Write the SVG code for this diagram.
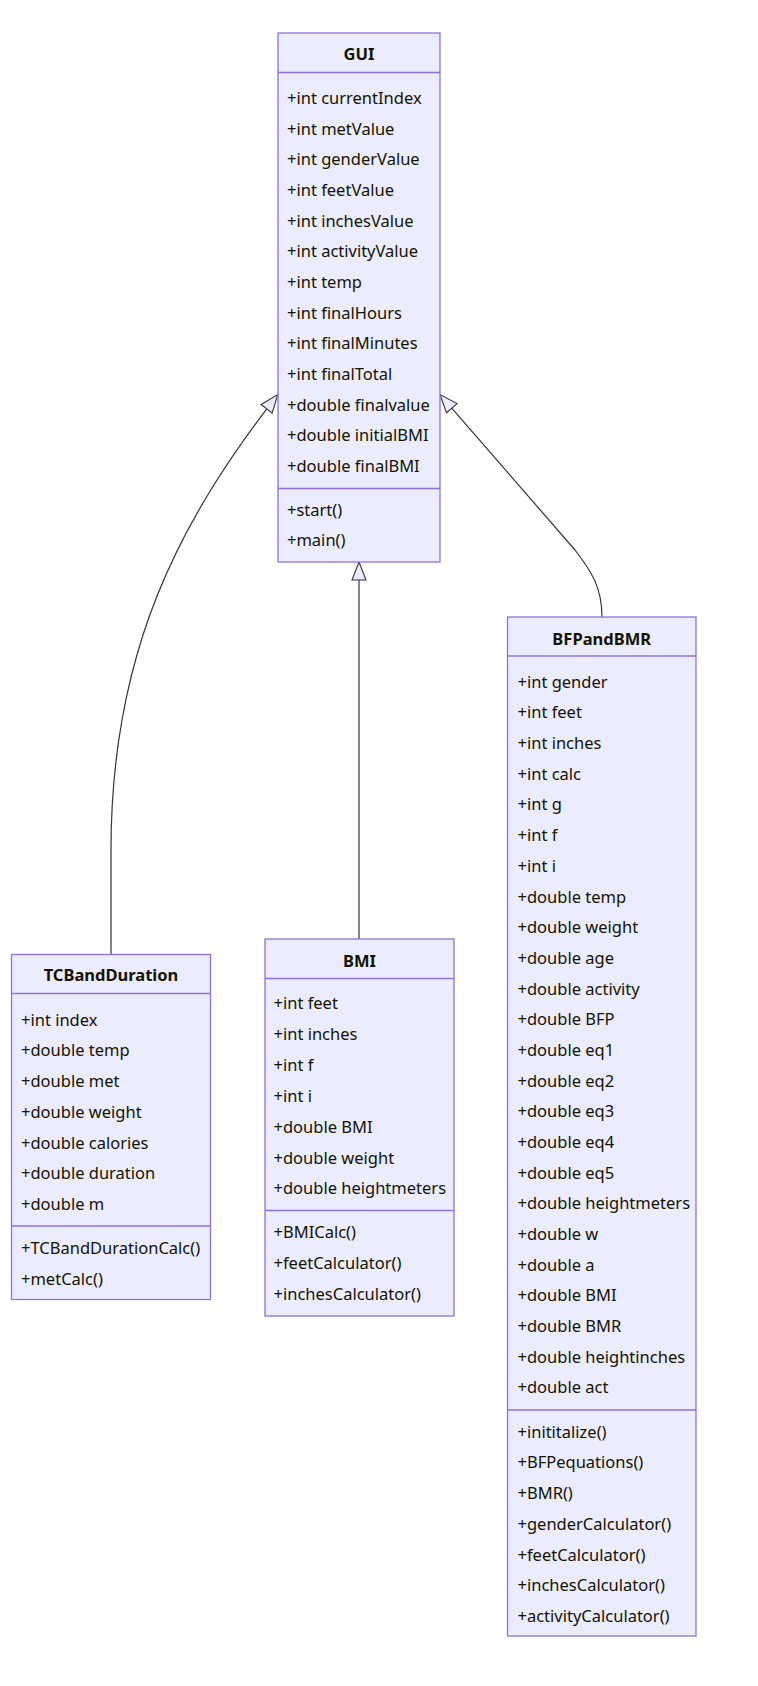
<svg xmlns="http://www.w3.org/2000/svg" width="758" height="1686" viewBox="0 0 758 1686">
<style>
.box{fill:#ECECFF;stroke:#9370DB;stroke-width:1.3}
.sep{stroke:#9370DB;stroke-width:1.3}
text{font-family:"Noto Sans",sans-serif;font-size:16.5px;fill:#131300;dominant-baseline:central}
.t{font-weight:bold;text-anchor:middle}
.edge{fill:none;stroke:#333333;stroke-width:1.2}
</style>
<defs>
<marker id="ext" viewBox="0 0 20 16" refX="19" refY="8" markerWidth="20" markerHeight="16" markerUnits="userSpaceOnUse" orient="auto">
<path d="M1,1 L19,8 L1,15 Z" fill="#ECECFF" stroke="#333333" stroke-width="1.1"/>
</marker>
</defs>
<rect width="758" height="1686" fill="#ffffff"/>
<g id="connectors">
<path class="edge" d="M111,954.5 L111,850 C111,650 180,520 277.7,394.6" marker-end="url(#ext)"/>
<path class="edge" d="M359,939 L359,562" marker-end="url(#ext)"/>
<path class="edge" d="M602,617 C602,588 592,572 575,550 L440,394.6" marker-end="url(#ext)"/>
</g>
<g id="GUI">
<rect class="box" x="278" y="33" width="162" height="529"/>
<line class="sep" x1="278" y1="72.5" x2="440" y2="72.5"/>
<line class="sep" x1="278" y1="488.5" x2="440" y2="488.5"/>
<g transform="translate(0,-1.5)">
<text class="t" x="359" y="55">GUI</text>
<text x="287" y="99">+int currentIndex</text>
<text x="287" y="129.6">+int metValue</text>
<text x="287" y="160.3">+int genderValue</text>
<text x="287" y="190.9">+int feetValue</text>
<text x="287" y="221.6">+int inchesValue</text>
<text x="287" y="252.2">+int activityValue</text>
<text x="287" y="282.9">+int temp</text>
<text x="287" y="313.5">+int finalHours</text>
<text x="287" y="344.2">+int finalMinutes</text>
<text x="287" y="374.8">+int finalTotal</text>
<text x="287" y="405.5">+double finalvalue</text>
<text x="287" y="436.1">+double initialBMI</text>
<text x="287" y="466.8">+double finalBMI</text>
<text x="287" y="510.7">+start()</text>
<text x="287" y="540.7">+main()</text>
</g>
</g>
<g id="TCBandDuration">
<rect class="box" x="11.5" y="954.5" width="199" height="345"/>
<line class="sep" x1="11.5" y1="993.5" x2="210.5" y2="993.5"/>
<line class="sep" x1="11.5" y1="1226" x2="210.5" y2="1226"/>
<g transform="translate(0,-1.5)">
<text class="t" x="111" y="976">TCBandDuration</text>
<text x="21" y="1020.7">+int index</text>
<text x="21" y="1051.4">+double temp</text>
<text x="21" y="1082.1">+double met</text>
<text x="21" y="1112.8">+double weight</text>
<text x="21" y="1143.5">+double calories</text>
<text x="21" y="1174.2">+double duration</text>
<text x="21" y="1204.9">+double m</text>
<text x="21" y="1249.3">+TCBandDurationCalc()</text>
<text x="21" y="1280">+metCalc()</text>
</g>
</g>
<g id="BMI">
<rect class="box" x="265" y="939" width="189" height="377"/>
<line class="sep" x1="265" y1="978.5" x2="454" y2="978.5"/>
<line class="sep" x1="265" y1="1210.5" x2="454" y2="1210.5"/>
<g transform="translate(0,-1.5)">
<text class="t" x="359.5" y="961.7">BMI</text>
<text x="273.5" y="1004">+int feet</text>
<text x="273.5" y="1034.9">+int inches</text>
<text x="273.5" y="1065.8">+int f</text>
<text x="273.5" y="1096.7">+int i</text>
<text x="273.5" y="1127.6">+double BMI</text>
<text x="273.5" y="1158.5">+double weight</text>
<text x="273.5" y="1189.4">+double heightmeters</text>
<text x="273.5" y="1233.3">+BMICalc()</text>
<text x="273.5" y="1264">+feetCalculator()</text>
<text x="273.5" y="1294.7">+inchesCalculator()</text>
</g>
</g>
<g id="BFPandBMR">
<rect class="box" x="507.5" y="617" width="188.5" height="1019"/>
<line class="sep" x1="507.5" y1="656" x2="696" y2="656"/>
<line class="sep" x1="507.5" y1="1410" x2="696" y2="1410"/>
<g transform="translate(0,-1.5)">
<text class="t" x="601.7" y="640">BFPandBMR</text>
<text x="517.5" y="682.7">+int gender</text>
<text x="517.5" y="713.4">+int feet</text>
<text x="517.5" y="744.1">+int inches</text>
<text x="517.5" y="774.7">+int calc</text>
<text x="517.5" y="805.4">+int g</text>
<text x="517.5" y="836.1">+int f</text>
<text x="517.5" y="866.8">+int i</text>
<text x="517.5" y="897.5">+double temp</text>
<text x="517.5" y="928.1">+double weight</text>
<text x="517.5" y="958.8">+double age</text>
<text x="517.5" y="989.5">+double activity</text>
<text x="517.5" y="1020.2">+double BFP</text>
<text x="517.5" y="1050.9">+double eq1</text>
<text x="517.5" y="1081.5">+double eq2</text>
<text x="517.5" y="1112.2">+double eq3</text>
<text x="517.5" y="1142.9">+double eq4</text>
<text x="517.5" y="1173.6">+double eq5</text>
<text x="517.5" y="1204.3">+double heightmeters</text>
<text x="517.5" y="1234.9">+double w</text>
<text x="517.5" y="1265.6">+double a</text>
<text x="517.5" y="1296.3">+double BMI</text>
<text x="517.5" y="1327">+double BMR</text>
<text x="517.5" y="1357.7">+double heightinches</text>
<text x="517.5" y="1388.3">+double act</text>
<text x="517.5" y="1432.7">+inititalize()</text>
<text x="517.5" y="1463.4">+BFPequations()</text>
<text x="517.5" y="1494.1">+BMR()</text>
<text x="517.5" y="1524.8">+genderCalculator()</text>
<text x="517.5" y="1555.5">+feetCalculator()</text>
<text x="517.5" y="1586.2">+inchesCalculator()</text>
<text x="517.5" y="1616.9">+activityCalculator()</text>
</g>
</g>
</svg>
